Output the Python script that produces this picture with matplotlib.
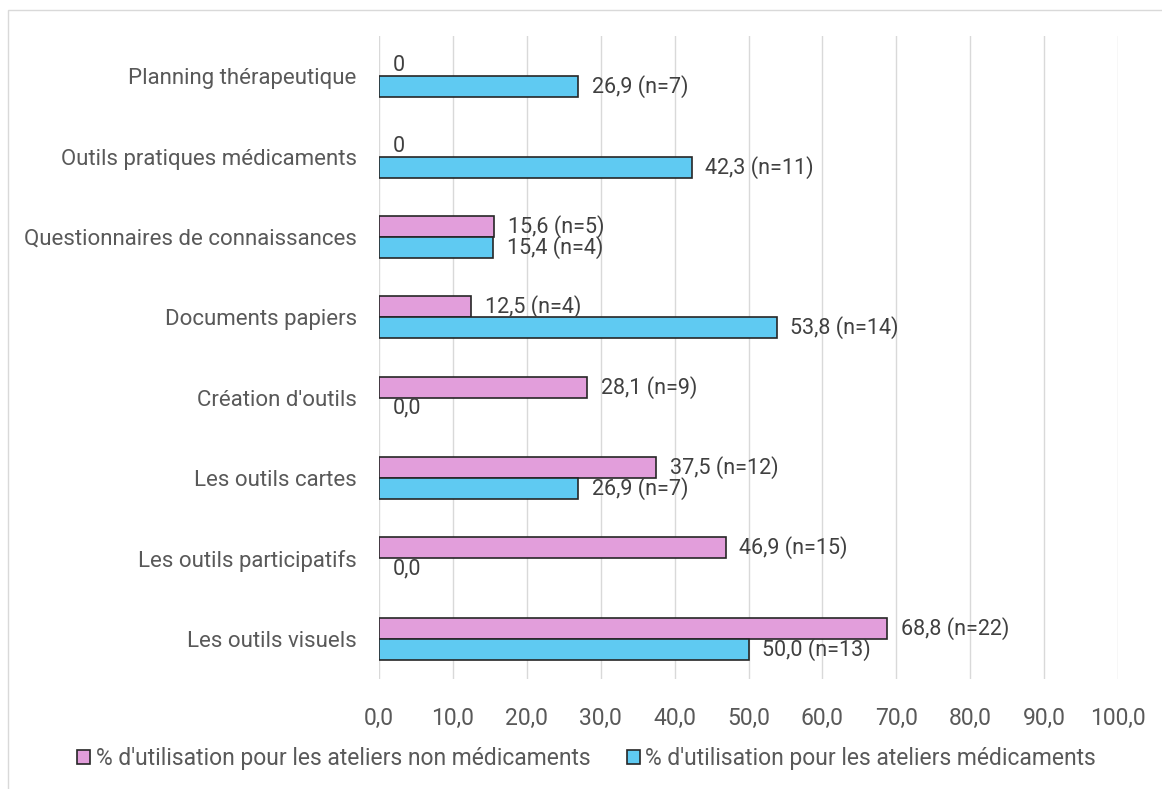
import matplotlib
matplotlib.use("Agg")
import matplotlib.pyplot as plt
from matplotlib.patches import Rectangle, Patch
import numpy as np

plt.rcParams['font.family'] = ['Roboto', 'DejaVu Sans']

categories = [
    "Planning thérapeutique",
    "Outils pratiques médicaments",
    "Questionnaires de connaissances",
    "Documents papiers",
    "Création d'outils",
    "Les outils cartes",
    "Les outils participatifs",
    "Les outils visuels",
]
non_medic = [0.0, 0.0, 15.6, 12.5, 28.1, 37.5, 46.9, 68.8]
non_medic_n = [None, None, 5, 4, 9, 12, 15, 22]
medic = [26.9, 42.3, 15.4, 53.8, 0.0, 26.9, 0.0, 50.0]
medic_n = [7, 11, 4, 14, None, 7, None, 13]
series_names = [
    "% d'utilisation pour les ateliers non médicaments",
    "% d'utilisation pour les ateliers médicaments",
]
x_ticks = np.arange(0, 101, 10)

PINK = "#E29EDB"
BLUE = "#5FCAF2"
EDGE = "#262626"
LABEL = "#404040"
AXIS_TXT = "#595959"

fig = plt.figure(figsize=(11.62, 7.89), dpi=100)
ax = fig.add_axes([379 / 1162, 1 - 679 / 789, (1118 - 379) / 1162, (679 - 36) / 789])

# outer frame of the chart area
fig.patches.append(Rectangle((8 / 1162, -0.05), 1.1, 1 - 10 / 789 + 0.05,
                             transform=fig.transFigure, fill=False,
                             edgecolor="#D9D9D9", linewidth=1.0))

y = np.arange(len(categories))
h = 0.262
b1 = ax.barh(y - h / 2, non_medic, height=h, color=PINK, edgecolor=EDGE,
             linewidth=1.2, zorder=3)
b2 = ax.barh(y + h / 2, medic, height=h, color=BLUE, edgecolor=EDGE,
             linewidth=1.2, zorder=3)
for bar in list(b1) + list(b2):
    if bar.get_width() == 0:
        bar.set_linewidth(0)


def fmt(v, n, zero_txt):
    if v == 0 and n is None:
        return zero_txt
    return f"{v:.1f}".replace(".", ",") + f" (n={n})"


for bars, vals, ns, zero_txt in ((b1, non_medic, non_medic_n, "0"),
                                 (b2, medic, medic_n, "0,0")):
    for bar, v, n in zip(bars, vals, ns):
        ax.annotate(fmt(v, n, zero_txt), (v, bar.get_y() + bar.get_height() / 2),
                    xytext=(10, 0), textcoords="offset points", va="center",
                    ha="left", fontsize=15.5, color=LABEL, zorder=4)

ax.set_xlim(0, 100)
ax.set_ylim(len(categories) - 0.5, -0.5)
ax.set_xticks(x_ticks)
ax.set_xticklabels([f"{t:.1f}".replace(".", ",") for t in x_ticks],
                   fontsize=16.5, color=AXIS_TXT)
ax.set_yticks(y)
ax.set_yticklabels(categories, fontsize=16, color=AXIS_TXT)
ax.tick_params(axis="both", length=0)
ax.tick_params(axis="x", pad=20)
ax.tick_params(axis="y", pad=16)
ax.grid(axis="x", color="#D9D9D9", linewidth=1.0, zorder=0)
for s in ax.spines.values():
    s.set_visible(False)

handles = [Patch(facecolor=PINK, edgecolor=EDGE, linewidth=1.2, label=series_names[0]),
           Patch(facecolor=BLUE, edgecolor=EDGE, linewidth=1.2, label=series_names[1])]
leg = fig.legend(handles=handles, loc="center",
                 bbox_to_anchor=(0.505, 1 - 759 / 789), ncol=2, frameon=False,
                 fontsize=16.5, handlelength=0.55, handleheight=0.55,
                 handletextpad=0.25, columnspacing=1.6)
for t in leg.get_texts():
    t.set_color(AXIS_TXT)

fig.savefig("out.png", dpi=100)
